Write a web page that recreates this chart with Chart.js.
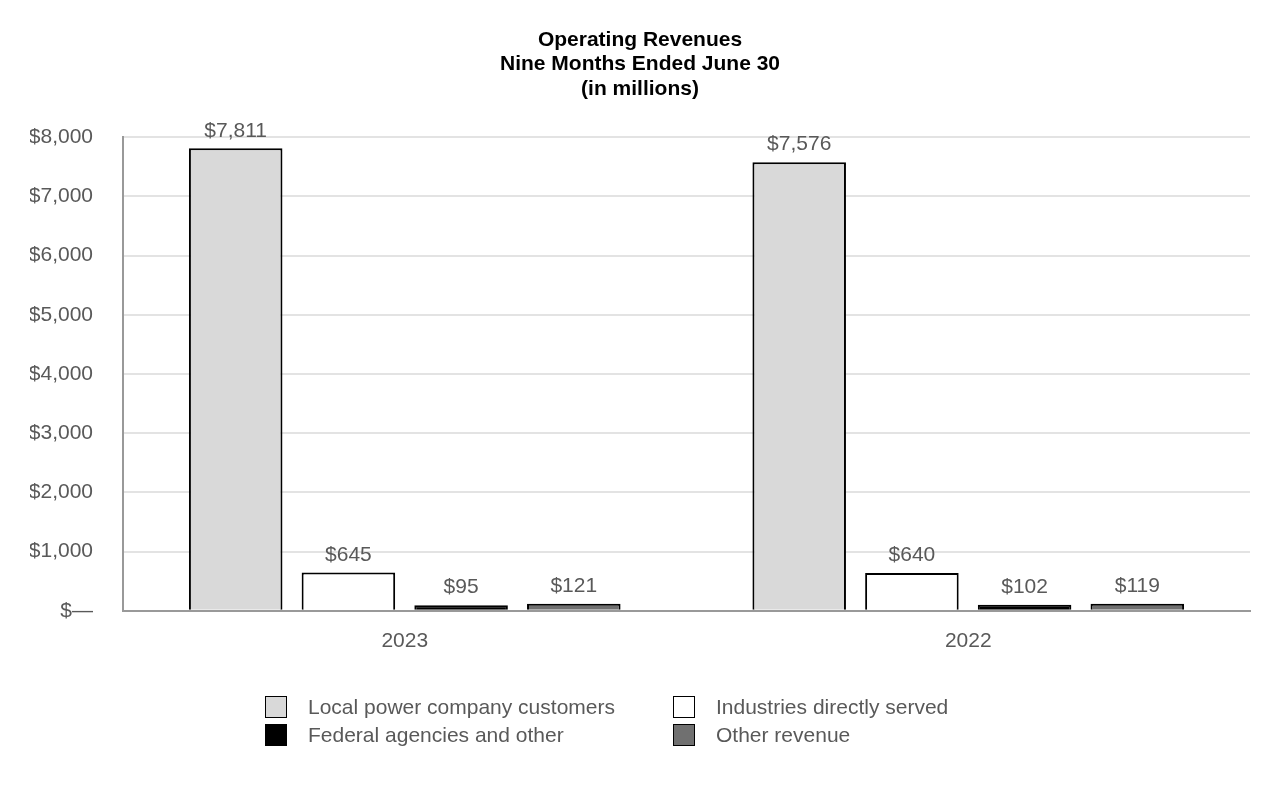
<!DOCTYPE html>
<html>
<head>
<meta charset="utf-8">
<script src="https://cdn.jsdelivr.net/npm/chart.js@4/dist/chart.umd.min.js"></script>
<style>
  body { margin: 0; background: #fff; }
  #wrap { position: relative; width: 1280px; height: 790px; }
  #legend { position: absolute; left: 265px; top: 695px; display: grid; grid-template-columns: 408px 320px; row-gap: 4px;
    font-family: "Liberation Sans", Arial, sans-serif; font-size: 21px; color: #595959; }
  .item { display: flex; align-items: center; height: 24px; }
  .box { width: 20px; height: 20px; border: 1.5px solid #000; margin-right: 21px; box-sizing: content-box; }
</style>
</head>
<body>
<div id="wrap">
  <canvas id="chart" width="1280" height="790"></canvas>
  <div id="legend"></div>
</div>
<script>
// --- data ---
const years = ["2023", "2022"];
const seriesNames = ["Local power company customers", "Industries directly served", "Federal agencies and other", "Other revenue"];
const localPower = [7811, 7576];
const industries = [645, 640];
const federal = [95, 102];
const otherRevenue = [121, 119];
const yTicks = [0, 1000, 2000, 3000, 4000, 5000, 6000, 7000, 8000];

const fills = ["#d9d9d9", "#ffffff", "#000000", "#707070"];
const FONT = "'Liberation Sans', Arial, sans-serif";

function money(v) {
  return v === 0 ? "$\u2014" : "$" + v.toLocaleString("en-US");
}

// labels above bars
const valueLabels = {
  id: "valueLabels",
  afterDatasetsDraw(chart) {
    const ctx = chart.ctx;
    ctx.save();
    ctx.font = "21px " + FONT;
    ctx.fillStyle = "#595959";
    ctx.textAlign = "center";
    ctx.textBaseline = "bottom";
    chart.data.datasets.forEach((ds, i) => {
      chart.getDatasetMeta(i).data.forEach((bar, j) => {
        ctx.fillText(money(ds.data[j]), bar.x, bar.y - 7);
      });
    });
    ctx.restore();
  },
};

const allSeries = [localPower, industries, federal, otherRevenue];
const chart = new Chart(document.getElementById("chart"), {
  type: "bar",
  data: {
    labels: years,
    datasets: allSeries.map((d, i) => ({
      label: seriesNames[i],
      data: d,
      backgroundColor: fills[i],
      borderColor: "#000",
      borderWidth: 2,
      categoryPercentage: 0.8,
      barPercentage: 0.83,
    })),
  },
  options: {
    responsive: false,
    animation: false,
    layout: { padding: { left: 30, right: 30, top: 20, bottom: 126 } },
    plugins: {
      legend: { display: false },
      tooltip: { enabled: false },
      title: {
        display: true,
        text: ["Operating Revenues", "Nine Months Ended June 30", "(in millions)"],
        color: "#000",
        font: { family: FONT, size: 21, weight: "bold", lineHeight: 1.16 },
        padding: { top: 8, bottom: 36 },
      },
    },
    scales: {
      x: {
        grid: { display: false },
        border: { color: "#999", width: 2 },
        ticks: { color: "#595959", font: { family: FONT, size: 21 }, padding: 10 },
      },
      y: {
        min: 0,
        max: 8000,
        afterFit(scale) { scale.width = 93; },
        afterBuildTicks(scale) { scale.ticks = yTicks.map((v) => ({ value: v })); },
        grid: { color: "#e3e3e3", lineWidth: 2, drawTicks: false },
        border: { color: "#999", width: 2 },
        ticks: { color: "#595959", font: { family: FONT, size: 21 }, padding: 30, callback: (v) => money(v) },
      },
    },
  },
  plugins: [valueLabels],
});

// legend as grid
const legend = document.getElementById("legend");
[0, 1, 2, 3].forEach((i) => {
  const el = document.createElement("div");
  el.className = "item";
  el.innerHTML = '<span class="box" style="background:' + fills[i] + '"></span><span>' + seriesNames[i] + "</span>";
  legend.appendChild(el);
});
</script>
</body>
</html>
